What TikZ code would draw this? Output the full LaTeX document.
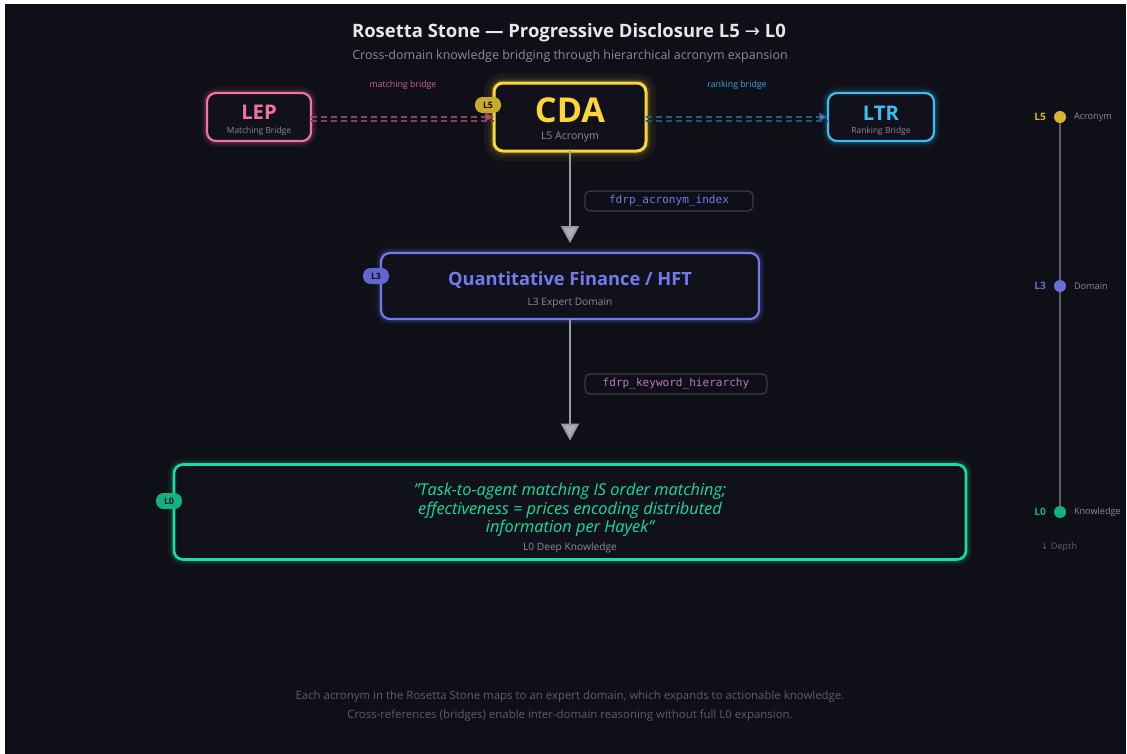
\documentclass[tikz,border=0pt]{standalone}
\usepackage{fontspec}
\setmainfont{Open Sans}
\setmonofont{DejaVu Sans Mono}
\newfontfamily\symfont{DejaVu Sans}
\usetikzlibrary{arrows.meta}

\definecolor{bgc}{HTML}{0F0F18}
\definecolor{boxc}{HTML}{11111B}
\definecolor{pinkc}{HTML}{F4729E}
\definecolor{yelc}{HTML}{FCD53A}
\definecolor{bluec}{HTML}{3DBEF2}
\definecolor{indc}{HTML}{727AEC}
\definecolor{grnc}{HTML}{16DDA0}
\definecolor{greyc}{HTML}{8A8A99}
\definecolor{dimc}{HTML}{5C5C6E}
\definecolor{linec}{HTML}{9A9AA4}
\definecolor{codeb}{HTML}{3C3C48}
\newcommand{\pxu}{0.02cm}

\begin{document}
\begin{tikzpicture}[x=0.02cm,y=-0.02cm,
  every node/.style={inner sep=0pt,outer sep=0pt},
  box/.style={draw=#1,fill=boxc,rounded corners=9*\pxu,line width=2.2*\pxu,
    preaction={draw=#1,line width=12*\pxu,opacity=0.06},
    preaction={draw=#1,line width=7*\pxu,opacity=0.14}},
  badge/.style={fill=#1,rounded corners=7.5*\pxu,minimum width=26*\pxu,minimum height=16*\pxu,
    text=bgc,font=\fontsize{5pt}{6pt}\selectfont\bfseries},
  sub/.style={text=greyc,font=\fontsize{5.2pt}{6pt}\selectfont},
  acro/.style={text=#1,font=\fontsize{11.5pt}{13pt}\selectfont\bfseries},
  code/.style={draw=codeb,rounded corners=5*\pxu,line width=1.2*\pxu,text=#1,
    minimum height=20*\pxu,font=\fontsize{6.3pt}{7pt}\selectfont\ttfamily},
  flow/.style={draw=linec,line width=2*\pxu,-{Triangle[width=18*\pxu,length=17*\pxu,fill=linec!80!white]}},
  bridge/.style={draw=#1,line width=1.6*\pxu,dash pattern=on 3.4pt off 2.3pt}]

% canvas
\fill[white] (0,0) rectangle (1127,754);
\fill[bgc] (5,4) rectangle (1126,754);

% heading
\node[text=white!90!bgc,font=\fontsize{10.5pt}{12pt}\selectfont\bfseries] (title) at (569,33)
  {Rosetta Stone — Progressive Disclosure L5 {\symfont\mdseries →} L0};
\node[text=greyc,font=\fontsize{7.1pt}{8pt}\selectfont] (subtitle) at (570,56)
  {Cross-domain knowledge bridging through hierarchical acronym expansion};

% L5 row
\node[box=pinkc,minimum width=104*\pxu,minimum height=48*\pxu] (lep) at (259,117) {};
\node[acro=pinkc] (lep-t) at (259,112) {LEP};
\node[sub,font=\fontsize{4.8pt}{6pt}\selectfont] (lep-s) at (259,131) {Matching Bridge};

\node[box=yelc,line width=3*\pxu,minimum width=152*\pxu,minimum height=68*\pxu,
  preaction={draw=yelc,line width=20*\pxu,opacity=0.05}] (cda) at (570,117) {};
\node[acro=yelc,font=\fontsize{19.5pt}{22pt}\selectfont\bfseries] (cda-t) at (570,110) {CDA};
\node[sub,font=\fontsize{6pt}{7pt}\selectfont] (cda-s) at (570,137) {L5 Acronym};
\node[badge=yelc!80!black] (b5) at (488,105) {L5};

\node[box=bluec,minimum width=106*\pxu,minimum height=48*\pxu] (ltr) at (881,117) {};
\node[acro=bluec] (ltr-t) at (881,113) {LTR};
\node[sub,font=\fontsize{4.8pt}{6pt}\selectfont] (ltr-s) at (881,131) {Ranking Bridge};

% bridges
\draw[bridge=pinkc!50!bgc] ([yshift=-4*\pxu]lep.east) -- ([yshift=-4*\pxu]cda.west);
\draw[bridge=pinkc!55!bgc,-{Triangle[width=9*\pxu,length=9*\pxu,fill=pinkc!75!bgc]}]
  (lep.east) -- (cda.west);
\draw[bridge=bluec!40!bgc] ([yshift=-4*\pxu]cda.east) -- ([yshift=-4*\pxu]ltr.west);
\draw[bridge=bluec!45!bgc,-{Triangle[width=9*\pxu,length=9*\pxu,fill=indc]}]
  (cda.east) -- (ltr.west);
\node[text=pinkc!85!bgc,font=\fontsize{5pt}{6pt}\selectfont] (lbl-m) at (403,85) {matching bridge};
\node[text=bluec!85!bgc,font=\fontsize{5pt}{6pt}\selectfont] (lbl-r) at (737,85) {ranking bridge};

% L3
\node[box=indc,minimum width=378*\pxu,minimum height=66*\pxu] (l3) at (570,286) {};
\node[acro=indc,font=\fontsize{10.4pt}{12pt}\selectfont\bfseries] (l3-t) at (570,280) {Quantitative Finance / HFT};
\node[sub,font=\fontsize{5.8pt}{7pt}\selectfont] (l3-s) at (570,303) {L3 Expert Domain};
\node[badge=indc!85!black] (b3) at (376,276) {L3};

% L0
\node[box=grnc,line width=2.6*\pxu,minimum width=792*\pxu,minimum height=95*\pxu] (l0) at (570,512) {};
\node[text=grnc,align=center,font=\fontsize{9.3pt}{10.6pt}\selectfont\itshape] (l0-t) at (570,510)
  {"Task-to-agent matching IS order matching;\\effectiveness = prices encoding distributed\\information per Hayek"};
\node[sub,font=\fontsize{5.8pt}{7pt}\selectfont] (l0-s) at (570,548) {L0 Deep Knowledge};
\node[badge=grnc!80!black] (b0) at (169,501) {L0};

% flow down
\draw[flow,shorten >=10*\pxu] (cda) -- (l3);
\draw[flow,shorten >=24*\pxu] (l3) -- (l0);
\node[code=indc,minimum width=168*\pxu] (c1) at (669,201) {fdrp\_acronym\_index};
\node[code=pinkc!55!indc,minimum width=182*\pxu] (c2) at (676,384) {fdrp\_keyword\_hierarchy};

% depth scale
\foreach \y/\c/\l/\t in {117/yelc!85!black/5/Acronym,286/indc!90!black/3/Domain,512/grnc!80!black/0/Knowledge}
{
  \node[circle,fill=\c,minimum size=12*\pxu] (d\l) at (1060,\y) {};
  \node[anchor=east,text=\c,font=\fontsize{5.8pt}{7pt}\selectfont\bfseries] (dl\l) at (1046,\y) {L\l};
  \node[anchor=west,text=greyc,font=\fontsize{5.2pt}{6pt}\selectfont] (dt\l) at (1074,\y) {\t};
}
\draw[dimc,line width=1.5*\pxu] (d5) -- (d3) (d3) -- (d0);
\node[text=dimc,font=\fontsize{5.2pt}{6pt}\selectfont] (depth) at (1059,547) {{\symfont ↓} Depth};

% footer
\node[text=dimc,align=center,font=\fontsize{6.5pt}{10.8pt}\selectfont] (foot) at (570,706)
  {Each acronym in the Rosetta Stone maps to an expert domain, which expands to actionable knowledge.\\
   Cross-references (bridges) enable inter-domain reasoning without full L0 expansion.};
\end{tikzpicture}
\end{document}
